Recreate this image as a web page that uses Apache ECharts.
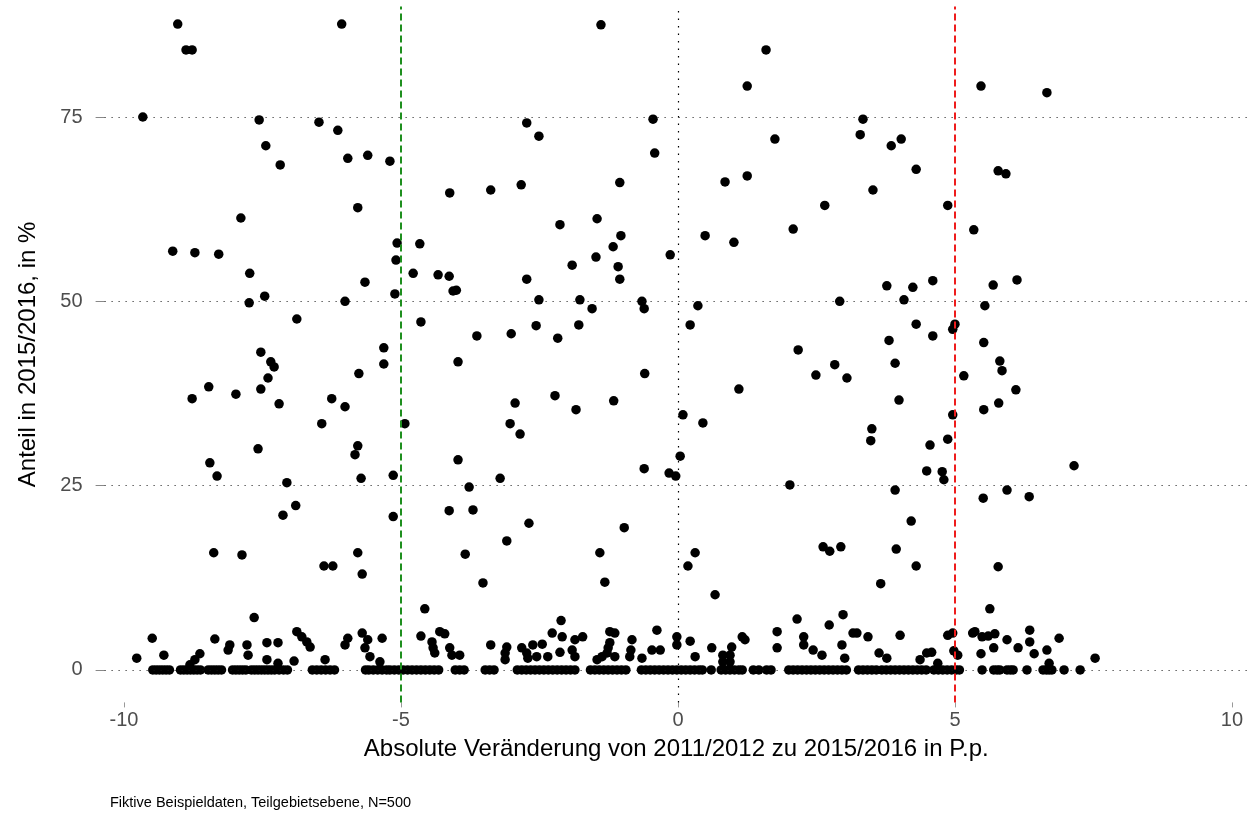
<!DOCTYPE html>
<html>
<head>
<meta charset="utf-8">
<script src="https://cdn.jsdelivr.net/npm/echarts@6/dist/echarts.min.js"></script>
<style>
html,body{margin:0;padding:0;background:#fff;}
#chart{width:1248px;height:814px;}
</style>
</head>
<body>
<div id="chart"></div>
<script>
// ---- data: [change in p.p., share in %] ----
const pointsUpperLeft = [
  [-9.03,87.6],[-8.88,84.1],[-8.77,84.1],[-9.66,75.0],[-6.07,87.6],
  [-9.12,56.8],[-8.72,56.6],[-8.29,56.4],[-7.89,61.3],[-7.73,53.8],[-7.74,49.8],[-7.46,50.7],[-6.88,47.6],
  [-7.56,74.6],[-7.44,71.1],[-7.18,68.5],[-6.48,74.3],[-6.14,73.2],[-5.96,69.4],[-5.60,69.8],[-5.20,69.0],
  [-5.78,62.7],[-5.65,52.6],[-6.01,50.0],[-5.11,51.0],[-5.09,55.6],[-5.07,57.9]
];
const pointsUpperCenterLeft = [
  [-1.39,87.5],[-2.73,74.2],[-2.51,72.4],[-0.45,74.7],[-0.42,70.1],[-1.05,66.1],[-4.12,64.7],[-3.38,65.1],
  [-2.83,65.8],[-2.13,60.4],[-1.46,61.2],[-1.03,58.9],[-1.17,57.4],[-1.48,56.0],[-0.14,56.3],[-1.91,54.9],
  [-1.08,54.7],[-1.05,53.0],[-4.66,57.8],[-4.78,53.8],[-4.33,53.6],[-4.13,53.4],[-4.06,51.4],[-4.00,51.5],
  [-2.73,53.0],[-2.51,50.2],[-1.77,50.2],[-1.55,49.0],[-0.65,50.0],[-0.61,49.0],[-4.64,47.2],[-2.56,46.7],[-1.79,46.8]
];
const pointsUpperCenterRight = [
  [1.59,84.1],[1.25,79.2],[1.75,72.0],[0.85,66.2],[1.25,67.0],[3.34,74.7],[3.29,72.6],[3.85,71.1],[4.03,72.0],
  [4.30,67.9],[3.52,65.1],[2.65,63.0],[2.08,59.8],[0.49,58.9],[1.01,58.0],[4.87,63.0],[5.34,59.7],[3.77,52.1],
  [4.24,51.9],[4.60,52.8],[4.08,50.2],[2.92,50.0],[0.36,49.4],[0.22,46.8],[4.30,46.9],[5.00,46.9],[4.96,46.2]
];
const pointsUpperRight = [
  [5.47,79.2],[6.66,78.3],[5.78,67.7],[5.92,67.3],[5.69,52.2],[6.12,52.9],[5.54,49.4]
];
const pointsLowerLeft = [
  [-7.53,43.1],[-7.35,41.8],[-7.29,41.1],[-7.40,39.6],[-7.53,38.1],[-8.47,38.4],[-8.77,36.8],[-7.98,37.4],
  [-7.20,36.1],[-5.31,43.7],[-5.31,41.5],[-5.76,40.2],[-6.25,36.8],[-6.01,35.7],[-6.43,33.4],[-7.58,30.0],
  [-5.78,30.4],[-5.83,29.2],[-8.45,28.1],[-8.32,26.3],[-7.06,25.4],[-5.72,26.0],[-5.14,26.4],[-6.90,22.3],
  [-7.13,21.0],[-5.14,20.8],[-8.38,15.9],[-7.87,15.6],[-5.78,15.9],[-6.39,14.1],[-6.23,14.1],[-5.70,13.0],[-7.65,7.1]
];
const pointsLowerCenterLeft = [
  [-3.63,45.3],[-3.01,45.6],[-2.17,45.0],[-3.97,41.8],[-0.60,40.2],[-2.94,36.2],[-2.22,37.2],[-1.84,35.3],
  [-1.16,36.5],[0.09,34.6],[-4.93,33.4],[-3.03,33.4],[-2.85,32.0],[-3.97,28.5],[0.04,29.0],[-3.21,26.0],
  [-3.77,24.8],[-0.61,27.3],[-0.16,26.7],[-0.04,26.3],[-4.13,21.6],[-3.70,21.7],[-2.69,19.9],[-0.97,19.3],
  [-3.09,17.5],[-3.84,15.7],[-1.41,15.9],[-3.52,11.8],[-1.32,11.9],[-4.57,8.3],[-2.11,6.7]
];
const pointsLowerCenterRight = [
  [3.81,44.7],[4.60,45.3],[2.17,43.4],[3.92,41.6],[2.83,41.4],[2.49,40.0],[3.05,39.6],[5.16,39.9],[1.10,38.1],
  [3.99,36.6],[0.45,33.5],[4.96,34.6],[3.50,32.7],[3.48,31.1],[4.87,31.3],[4.55,30.5],[4.49,27.0],[4.77,26.9],
  [4.80,25.8],[2.02,25.1],[3.92,24.4],[4.21,20.2],[2.62,16.7],[2.74,16.1],[2.94,16.7],[3.94,16.4],[0.31,15.9],
  [0.18,14.1],[4.30,14.1],[3.66,11.7],[0.67,10.2],[2.15,6.9],[2.98,7.5]
];
const pointsLowerRight = [
  [5.52,44.4],[5.81,41.9],[5.85,40.6],[6.10,38.0],[5.79,36.2],[5.52,35.3],[7.15,27.7],[5.51,23.3],[5.94,24.4],
  [6.34,23.5],[5.78,14.0],[5.63,8.3]
];
const pointsSmallLeft = [
  [-9.49,4.3],[-9.77,1.6],[-9.28,2.0],[-8.36,4.2],[-8.09,3.4],[-8.12,2.7],[-8.63,2.2],[-8.72,1.4],[-8.81,0.7],
  [-7.78,3.4],[-7.76,2.0],[-7.42,3.7],[-7.22,3.7],[-7.42,1.4],[-7.22,0.9],[-6.88,5.2],[-6.79,4.5],[-6.70,3.8],
  [-6.64,3.1],[-6.93,1.2],[-6.37,1.4],[-5.96,4.3],[-6.01,3.4],[-5.70,5.0],[-5.60,4.1],[-5.34,4.3],[-5.65,3.0],
  [-5.56,1.8],[-5.38,1.1]
];
const pointsSmallCenterLeft = [
  [-4.64,4.6],[-4.44,3.8],[-4.30,5.2],[-4.21,4.9],[-4.42,3.0],[-4.39,2.3],[-4.12,3.0],[-4.08,2.0],[-3.94,2.0],
  [-3.38,3.4],[-3.09,3.1],[-3.12,2.3],[-3.12,1.4],[-2.82,3.0],[-2.73,2.3],[-2.62,3.4],[-2.45,3.5],[-2.71,1.6],
  [-2.55,1.8],[-2.27,5.0],[-2.09,4.5],[-2.13,2.4],[-2.35,1.8],[-1.86,4.1],[-1.72,4.5],[-1.91,2.7],[-1.86,1.8],
  [-1.23,5.2],[-1.14,5.0],[-1.23,3.7],[-1.26,3.0],[-1.28,2.3],[-1.37,1.8],[-1.46,1.4],[-1.14,1.8],[-0.83,4.1],
  [-0.85,2.7],[-0.87,1.8],[-0.65,1.6],[-0.38,5.4],[-0.47,2.7],[-0.32,2.7],[-0.02,4.5],[-0.02,3.4]
];
const pointsSmallRight = [
  [0.22,3.9],[0.31,1.8],[0.61,3.0],[0.97,3.1],[1.16,4.5],[1.21,4.1],[0.81,2.0],[0.94,2.0],[0.81,1.1],[0.94,1.1],
  [1.79,5.2],[1.79,3.0],[2.27,4.5],[2.27,3.4],[2.44,2.7],[2.60,2.0],[2.73,6.1],[2.96,3.4],[3.01,1.6],[3.16,5.0],
  [3.23,5.0],[3.43,4.5],[3.63,2.3],[3.77,1.6],[4.01,4.7],[4.37,1.4],[4.49,2.3],[4.58,2.4],[4.69,0.9],[4.87,4.7],
  [4.96,5.0],[4.98,2.6],[5.05,2.0],[5.32,5.0],[5.36,5.2],[5.49,4.5],[5.60,4.6],[5.72,4.9],[5.94,4.1],[6.35,5.4],
  [6.35,3.8],[6.14,3.0],[6.66,2.7],[6.88,4.3],[5.47,2.2],[5.70,3.0],[6.43,2.2],[6.70,0.9],[7.53,1.6]
];
// x values of the points that sit at a share of 0 %
const changeAtZeroShare = [
  -9.48,-9.42,-9.36,-9.30,-9.24,-9.18,
  -8.98,-8.92,-8.86,-8.80,-8.74,-8.68,-8.62,
  -8.48,-8.42,-8.36,-8.30,-8.24,
  -8.04,-7.98,-7.92,-7.86,-7.80,
  -7.70,-7.64,-7.58,-7.52,-7.46,-7.40,-7.34,
  -7.28,-7.20,-7.12,-7.05,
  -6.60,-6.52,-6.44,-6.36,-6.28,-6.20,
  -5.64,-5.58,-5.50,-5.42,-5.34,-5.26,-5.20,
  -5.12,-5.04,-4.96,-4.88,-4.80,-4.72,-4.64,-4.56,-4.48,-4.40,-4.32,
  -4.02,-3.94,-3.86,
  -3.48,-3.40,-3.32,
  -2.90,-2.82,-2.74,-2.66,-2.58,-2.50,-2.42,-2.34,-2.26,-2.18,-2.10,-2.02,-1.94,-1.86,
  -1.58,-1.50,-1.42,-1.34,-1.26,-1.18,-1.10,-1.02,-0.94,
  -0.66,-0.58,-0.50,-0.42,-0.34,-0.26,-0.18,-0.10,-0.02,
  0.06,0.14,0.22,0.30,0.38,0.44,0.60,
  0.78,0.86,0.94,1.02,1.10,1.16,1.36,1.46,1.60,1.68,
  2.00,2.08,2.16,2.24,2.32,2.40,2.48,2.56,2.64,2.72,2.80,2.88,2.96,3.04,
  3.26,3.34,3.42,3.50,3.58,3.68,3.76,3.84,3.92,4.00,
  4.08,4.16,4.24,4.32,4.40,4.48,
  4.62,4.70,4.78,4.86,4.94,5.02,5.08,
  5.49,5.70,5.76,5.81,5.94,6.00,6.05,6.30,6.59,6.65,6.70,6.75,6.97,7.26
];
const xTickValues = [-10, -5, 0, 5, 10];
const yTickValues = [0, 25, 50, 75];
const refLineLower = -5;
const refLineUpper = 5;
const refLineZero = 0;
const xTitle = 'Absolute Veränderung von 2011/2012 zu 2015/2016 in P.p.';
const yTitle = 'Anteil in 2015/2016, in %';
const captionText = 'Fiktive Beispieldaten, Teilgebietsebene, N=500';

// ---- build ----
const allPoints = [].concat(
  pointsUpperLeft, pointsUpperCenterLeft, pointsUpperCenterRight, pointsUpperRight,
  pointsLowerLeft, pointsLowerCenterLeft, pointsLowerCenterRight, pointsLowerRight,
  pointsSmallLeft, pointsSmallCenterLeft, pointsSmallRight,
  changeAtZeroShare.map(x => [x, 0])
);

const FONT = '"Liberation Sans", Arial, sans-serif';
const chart = echarts.init(document.getElementById('chart'), null, {renderer: 'canvas'});

const X_MIN = -10.35, X_MAX = 10.29, Y_MIN = -4.4, Y_MAX = 90;
const GRID_LEFT = 104.6, GRID_TOP = 6.4;
const PX_X = 55.4, PX_Y = 7.373;

chart.setOption({
  animation: false,
  backgroundColor: '#ffffff',
  title: {
    text: captionText,
    left: 105,
    top: 790,
    textStyle: {fontFamily: FONT, fontSize: 14.5, fontWeight: 'normal', color: '#000000'}
  },
  grid: {
    left: GRID_LEFT,
    top: GRID_TOP,
    width: (X_MAX - X_MIN) * PX_X,
    height: (Y_MAX - Y_MIN) * PX_Y,
    containLabel: false
  },
  xAxis: {
    type: 'value',
    min: X_MIN,
    max: X_MAX,
    name: xTitle,
    nameLocation: 'middle',
    nameGap: 35,
    nameTextStyle: {fontFamily: FONT, fontSize: 24, color: '#000000'},
    axisLine: {show: false, onZero: false},
    axisTick: {show: true, customValues: xTickValues, length: 5, lineStyle: {color: '#999999', width: 1}},
    axisLabel: {customValues: xTickValues, fontFamily: FONT, fontSize: 20, color: '#4d4d4d', margin: 8},
    splitLine: {show: false}
  },
  yAxis: {
    type: 'value',
    min: Y_MIN,
    max: Y_MAX,
    name: yTitle,
    nameLocation: 'middle',
    nameGap: 64,
    nameRotate: 90,
    nameTextStyle: {fontFamily: FONT, fontSize: 24, color: '#000000'},
    axisLine: {show: false, onZero: false},
    axisTick: {show: true, customValues: yTickValues, length: 9, lineStyle: {color: '#888888', width: 1}},
    axisLabel: {customValues: yTickValues, fontFamily: FONT, fontSize: 20, color: '#4d4d4d', margin: 22},
    splitLine: {show: false}
  },
  series: [
    {
      type: 'scatter',
      name: 'guides',
      data: [],
      z: 1,
      silent: true,
      markLine: {
        silent: true,
        symbol: ['none', 'none'],
        label: {show: false},
        animation: false,
        data: [
          ...yTickValues.map(v => ({yAxis: v, lineStyle: {color: '#111111', type: [1, 6], width: 1}})),
          {xAxis: refLineZero, lineStyle: {color: '#000000', type: [1.5, 6], width: 1.2}},
          {xAxis: refLineLower, lineStyle: {color: '#1e8f1e', type: [7, 4], width: 2}},
          {xAxis: refLineUpper, lineStyle: {color: '#ee1c1c', type: [7, 4], width: 2}}
        ]
      }
    },
    {
      type: 'scatter',
      name: 'Teilgebiete',
      data: allPoints,
      symbol: 'circle',
      symbolSize: 9.5,
      itemStyle: {color: '#000000', opacity: 1},
      z: 3
    }
  ]
});
</script>
</body>
</html>
